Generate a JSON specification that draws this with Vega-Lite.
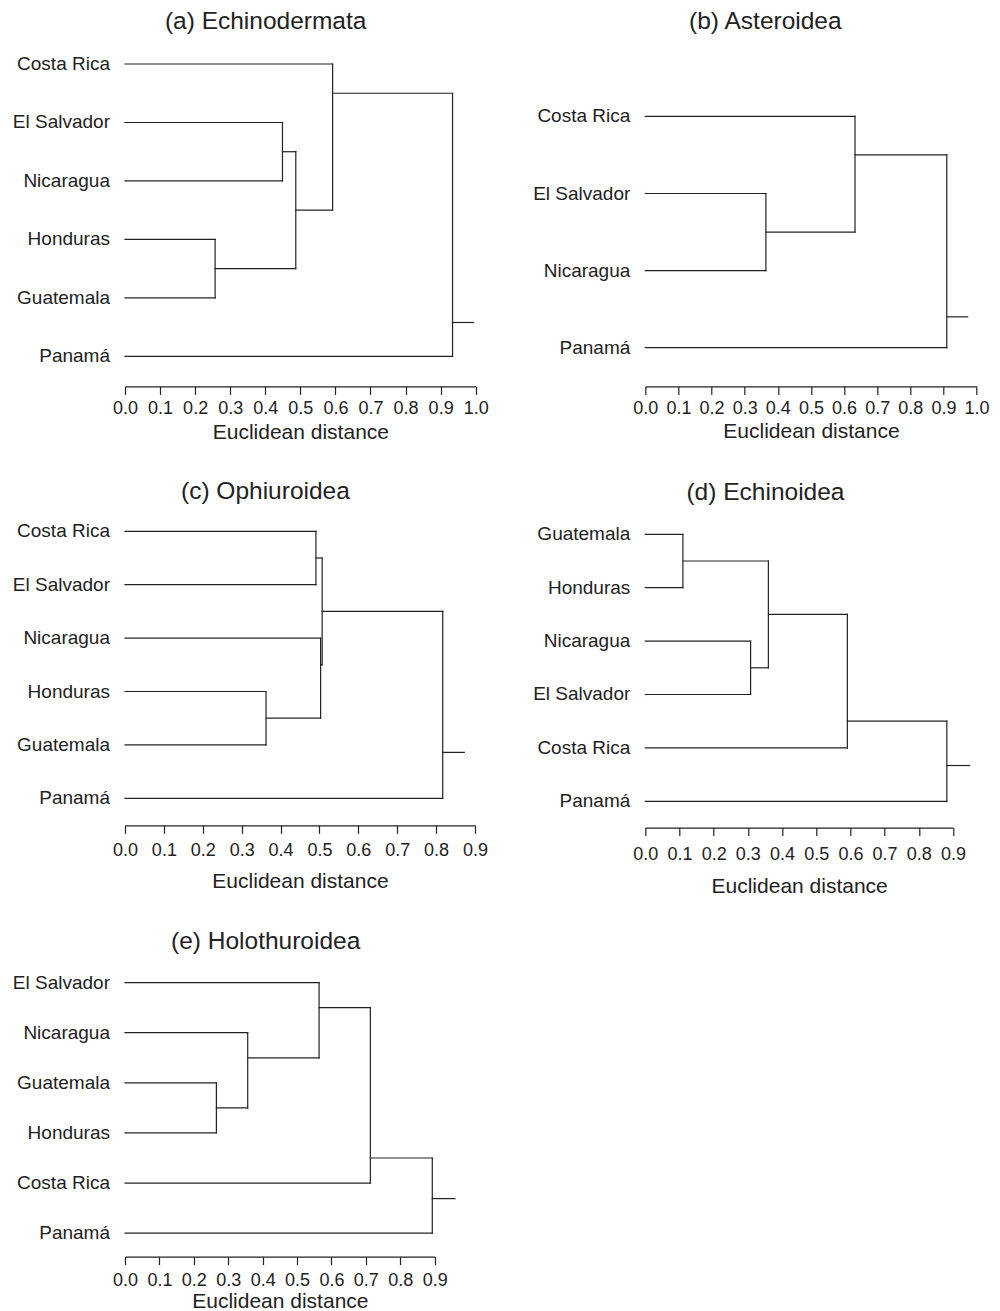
{
  "$schema": "https://vega.github.io/schema/vega-lite/v6.json",
  "padding": {"left": 12, "top": 8, "right": 0, "bottom": 0},
  "background": "white",
  "config": {
    "view": {"stroke": null},
    "font": "Liberation Sans",
    "title": {"fontSize": 24.5, "fontWeight": "normal", "color": "#222", "frame": "group", "anchor": "middle", "baseline": "alphabetic"},
    "axis": {"grid": false, "tickSize": 8, "domainColor": "#222", "tickColor": "#222", "labelColor": "#222", "titleColor": "#222", "labelFontSize": 18, "titleFontSize": 21, "titleFontWeight": "normal", "labelFlush": false, "labelOverlap": false, "format": ".1f", "domainWidth": 1.2, "tickWidth": 1.2}
  },
  "datasets": {
    "segments": [
      {"panel": "a", "d1": 0, "d2": 0.592, "p1": 1, "p2": 1},
      {"panel": "a", "d1": 0, "d2": 0.449, "p1": 2, "p2": 2},
      {"panel": "a", "d1": 0, "d2": 0.449, "p1": 3, "p2": 3},
      {"panel": "a", "d1": 0, "d2": 0.257, "p1": 4, "p2": 4},
      {"panel": "a", "d1": 0, "d2": 0.257, "p1": 5, "p2": 5},
      {"panel": "a", "d1": 0, "d2": 0.934, "p1": 6, "p2": 6},
      {"panel": "a", "d1": 0.257, "d2": 0.257, "p1": 4, "p2": 5},
      {"panel": "a", "d1": 0.257, "d2": 0.487, "p1": 4.5, "p2": 4.5},
      {"panel": "a", "d1": 0.449, "d2": 0.449, "p1": 2, "p2": 3},
      {"panel": "a", "d1": 0.449, "d2": 0.487, "p1": 2.5, "p2": 2.5},
      {"panel": "a", "d1": 0.487, "d2": 0.487, "p1": 2.5, "p2": 4.5},
      {"panel": "a", "d1": 0.487, "d2": 0.592, "p1": 3.5, "p2": 3.5},
      {"panel": "a", "d1": 0.592, "d2": 0.592, "p1": 1, "p2": 3.5},
      {"panel": "a", "d1": 0.592, "d2": 0.934, "p1": 1.5, "p2": 1.5},
      {"panel": "a", "d1": 0.934, "d2": 0.934, "p1": 1.5, "p2": 6},
      {"panel": "a", "d1": 0.934, "d2": 0.994, "p1": 5.42, "p2": 5.42},

      {"panel": "b", "d1": 0, "d2": 0.633, "p1": 1, "p2": 1},
      {"panel": "b", "d1": 0, "d2": 0.364, "p1": 2, "p2": 2},
      {"panel": "b", "d1": 0, "d2": 0.364, "p1": 3, "p2": 3},
      {"panel": "b", "d1": 0, "d2": 0.910, "p1": 4, "p2": 4},
      {"panel": "b", "d1": 0.364, "d2": 0.364, "p1": 2, "p2": 3},
      {"panel": "b", "d1": 0.364, "d2": 0.633, "p1": 2.5, "p2": 2.5},
      {"panel": "b", "d1": 0.633, "d2": 0.633, "p1": 1, "p2": 2.5},
      {"panel": "b", "d1": 0.633, "d2": 0.910, "p1": 1.5, "p2": 1.5},
      {"panel": "b", "d1": 0.910, "d2": 0.910, "p1": 1.5, "p2": 4},
      {"panel": "b", "d1": 0.910, "d2": 0.973, "p1": 3.6, "p2": 3.6},

      {"panel": "c", "d1": 0, "d2": 0.491, "p1": 1, "p2": 1},
      {"panel": "c", "d1": 0, "d2": 0.491, "p1": 2, "p2": 2},
      {"panel": "c", "d1": 0, "d2": 0.503, "p1": 3, "p2": 3},
      {"panel": "c", "d1": 0, "d2": 0.3626, "p1": 4, "p2": 4},
      {"panel": "c", "d1": 0, "d2": 0.3626, "p1": 5, "p2": 5},
      {"panel": "c", "d1": 0, "d2": 0.817, "p1": 6, "p2": 6},
      {"panel": "c", "d1": 0.491, "d2": 0.491, "p1": 1, "p2": 2},
      {"panel": "c", "d1": 0.491, "d2": 0.507, "p1": 1.5, "p2": 1.5},
      {"panel": "c", "d1": 0.3626, "d2": 0.3626, "p1": 4, "p2": 5},
      {"panel": "c", "d1": 0.3626, "d2": 0.503, "p1": 4.5, "p2": 4.5},
      {"panel": "c", "d1": 0.503, "d2": 0.503, "p1": 3, "p2": 4.5},
      {"panel": "c", "d1": 0.503, "d2": 0.507, "p1": 3.5, "p2": 3.5},
      {"panel": "c", "d1": 0.507, "d2": 0.507, "p1": 1.5, "p2": 3.5},
      {"panel": "c", "d1": 0.507, "d2": 0.817, "p1": 2.5, "p2": 2.5},
      {"panel": "c", "d1": 0.817, "d2": 0.817, "p1": 2.5, "p2": 6},
      {"panel": "c", "d1": 0.817, "d2": 0.8725, "p1": 5.14, "p2": 5.14},

      {"panel": "d", "d1": 0, "d2": 0.110, "p1": 1, "p2": 1},
      {"panel": "d", "d1": 0, "d2": 0.110, "p1": 2, "p2": 2},
      {"panel": "d", "d1": 0, "d2": 0.308, "p1": 3, "p2": 3},
      {"panel": "d", "d1": 0, "d2": 0.308, "p1": 4, "p2": 4},
      {"panel": "d", "d1": 0, "d2": 0.591, "p1": 5, "p2": 5},
      {"panel": "d", "d1": 0, "d2": 0.882, "p1": 6, "p2": 6},
      {"panel": "d", "d1": 0.110, "d2": 0.110, "p1": 1, "p2": 2},
      {"panel": "d", "d1": 0.110, "d2": 0.360, "p1": 1.5, "p2": 1.5},
      {"panel": "d", "d1": 0.308, "d2": 0.308, "p1": 3, "p2": 4},
      {"panel": "d", "d1": 0.308, "d2": 0.360, "p1": 3.5, "p2": 3.5},
      {"panel": "d", "d1": 0.360, "d2": 0.360, "p1": 1.5, "p2": 3.5},
      {"panel": "d", "d1": 0.360, "d2": 0.591, "p1": 2.5, "p2": 2.5},
      {"panel": "d", "d1": 0.591, "d2": 0.591, "p1": 2.5, "p2": 5},
      {"panel": "d", "d1": 0.591, "d2": 0.882, "p1": 4.5, "p2": 4.5},
      {"panel": "d", "d1": 0.882, "d2": 0.882, "p1": 4.5, "p2": 6},
      {"panel": "d", "d1": 0.882, "d2": 0.949, "p1": 5.33, "p2": 5.33},

      {"panel": "e", "d1": 0, "d2": 0.564, "p1": 1, "p2": 1},
      {"panel": "e", "d1": 0, "d2": 0.3566, "p1": 2, "p2": 2},
      {"panel": "e", "d1": 0, "d2": 0.2656, "p1": 3, "p2": 3},
      {"panel": "e", "d1": 0, "d2": 0.2656, "p1": 4, "p2": 4},
      {"panel": "e", "d1": 0, "d2": 0.713, "p1": 5, "p2": 5},
      {"panel": "e", "d1": 0, "d2": 0.893, "p1": 6, "p2": 6},
      {"panel": "e", "d1": 0.2656, "d2": 0.2656, "p1": 3, "p2": 4},
      {"panel": "e", "d1": 0.2656, "d2": 0.3566, "p1": 3.5, "p2": 3.5},
      {"panel": "e", "d1": 0.3566, "d2": 0.3566, "p1": 2, "p2": 3.5},
      {"panel": "e", "d1": 0.3566, "d2": 0.564, "p1": 2.5, "p2": 2.5},
      {"panel": "e", "d1": 0.564, "d2": 0.564, "p1": 1, "p2": 2.5},
      {"panel": "e", "d1": 0.564, "d2": 0.713, "p1": 1.5, "p2": 1.5},
      {"panel": "e", "d1": 0.713, "d2": 0.713, "p1": 1.5, "p2": 5},
      {"panel": "e", "d1": 0.713, "d2": 0.893, "p1": 4.5, "p2": 4.5},
      {"panel": "e", "d1": 0.893, "d2": 0.893, "p1": 4.5, "p2": 6},
      {"panel": "e", "d1": 0.893, "d2": 0.959, "p1": 5.31, "p2": 5.31}
    ],
    "leaves": [
      {"panel": "a", "name": "Costa Rica", "pos": 1},
      {"panel": "a", "name": "El Salvador", "pos": 2},
      {"panel": "a", "name": "Nicaragua", "pos": 3},
      {"panel": "a", "name": "Honduras", "pos": 4},
      {"panel": "a", "name": "Guatemala", "pos": 5},
      {"panel": "a", "name": "Panamá", "pos": 6},
      {"panel": "b", "name": "Costa Rica", "pos": 1},
      {"panel": "b", "name": "El Salvador", "pos": 2},
      {"panel": "b", "name": "Nicaragua", "pos": 3},
      {"panel": "b", "name": "Panamá", "pos": 4},
      {"panel": "c", "name": "Costa Rica", "pos": 1},
      {"panel": "c", "name": "El Salvador", "pos": 2},
      {"panel": "c", "name": "Nicaragua", "pos": 3},
      {"panel": "c", "name": "Honduras", "pos": 4},
      {"panel": "c", "name": "Guatemala", "pos": 5},
      {"panel": "c", "name": "Panamá", "pos": 6},
      {"panel": "d", "name": "Guatemala", "pos": 1},
      {"panel": "d", "name": "Honduras", "pos": 2},
      {"panel": "d", "name": "Nicaragua", "pos": 3},
      {"panel": "d", "name": "El Salvador", "pos": 4},
      {"panel": "d", "name": "Costa Rica", "pos": 5},
      {"panel": "d", "name": "Panamá", "pos": 6},
      {"panel": "e", "name": "El Salvador", "pos": 1},
      {"panel": "e", "name": "Nicaragua", "pos": 2},
      {"panel": "e", "name": "Guatemala", "pos": 3},
      {"panel": "e", "name": "Honduras", "pos": 4},
      {"panel": "e", "name": "Costa Rica", "pos": 5},
      {"panel": "e", "name": "Panamá", "pos": 6}
    ]
  },
  "columns": 2,
  "bounds": "flush",
  "spacing": {"row": 174.3, "column": 169.3},
  "concat": [
    {
      "width": 350.7, "height": 292.4,
      "title": {"text": "(a) Echinodermata", "dx": -34.7, "offset": 20.9},
      "layer": [
        {
          "data": {"name": "segments"},
          "transform": [{"filter": "datum.panel === 'a'"}],
          "mark": {"type": "rule", "color": "#222", "strokeWidth": 1.2, "strokeCap": "square"},
          "encoding": {
            "x": {"field": "d1", "type": "quantitative", "scale": {"domain": [0, 1], "nice": false, "zero": false},
                  "axis": {"title": "Euclidean distance", "values": [0, 0.1, 0.2, 0.3, 0.4, 0.5, 0.6, 0.7, 0.8, 0.9, 1.0], "offset": 30, "labelPadding": 5, "titlePadding": 3.6}},
            "x2": {"field": "d2"},
            "y": {"field": "p1", "type": "quantitative", "scale": {"domain": [1, 6], "reverse": true, "nice": false, "zero": false}, "axis": null},
            "y2": {"field": "p2"}
          }
        },
        {
          "data": {"name": "leaves"},
          "transform": [{"filter": "datum.panel === 'a'"}],
          "mark": {"type": "text", "align": "right", "baseline": "middle", "dx": -15, "fontSize": 19, "color": "#222"},
          "encoding": {
            "x": {"datum": 0, "type": "quantitative",
                  "axis": {"title": "Euclidean distance", "values": [0, 0.1, 0.2, 0.3, 0.4, 0.5, 0.6, 0.7, 0.8, 0.9, 1.0], "offset": 30, "labelPadding": 5, "titlePadding": 3.6}},
            "y": {"field": "pos", "type": "quantitative", "axis": null},
            "text": {"field": "name"}
          }
        }
      ]
    },
    {
      "width": 331.3, "height": 292.4,
      "title": {"text": "(b) Asteroidea", "dx": -45.6, "offset": 29.3},
      "layer": [
        {
          "data": {"name": "segments"},
          "transform": [{"filter": "datum.panel === 'b'"}],
          "mark": {"type": "rule", "color": "#222", "strokeWidth": 1.2, "strokeCap": "square"},
          "encoding": {
            "x": {"field": "d1", "type": "quantitative", "scale": {"domain": [0, 1], "nice": false, "zero": false},
                  "axis": {"title": "Euclidean distance", "values": [0, 0.1, 0.2, 0.3, 0.4, 0.5, 0.6, 0.7, 0.8, 0.9, 1.0], "offset": 30, "labelPadding": 5.2, "titlePadding": 2.4}},
            "x2": {"field": "d2"},
            "y": {"field": "p1", "type": "quantitative", "scale": {"domain": [0.32, 4.113], "reverse": true, "nice": false, "zero": false}, "axis": null},
            "y2": {"field": "p2"}
          }
        },
        {
          "data": {"name": "leaves"},
          "transform": [{"filter": "datum.panel === 'b'"}],
          "mark": {"type": "text", "align": "right", "baseline": "middle", "dx": -15, "fontSize": 19, "color": "#222"},
          "encoding": {
            "x": {"datum": 0, "type": "quantitative",
                  "axis": {"title": "Euclidean distance", "values": [0, 0.1, 0.2, 0.3, 0.4, 0.5, 0.6, 0.7, 0.8, 0.9, 1.0], "offset": 30, "labelPadding": 5.2, "titlePadding": 2.4}},
            "y": {"field": "pos", "type": "quantitative", "axis": null},
            "text": {"field": "name"}
          }
        }
      ]
    },
    {
      "width": 350, "height": 276.4,
      "title": {"text": "(c) Ophiuroidea", "dx": -34.6, "offset": 17.7},
      "layer": [
        {
          "data": {"name": "segments"},
          "transform": [{"filter": "datum.panel === 'c'"}],
          "mark": {"type": "rule", "color": "#222", "strokeWidth": 1.2, "strokeCap": "square"},
          "encoding": {
            "x": {"field": "d1", "type": "quantitative", "scale": {"domain": [0, 0.9], "nice": false, "zero": false},
                  "axis": {"title": "Euclidean distance", "values": [0, 0.1, 0.2, 0.3, 0.4, 0.5, 0.6, 0.7, 0.8, 0.9], "offset": 17.6, "labelPadding": 7.8, "titlePadding": 11.4}},
            "x2": {"field": "d2"},
            "y": {"field": "p1", "type": "quantitative", "scale": {"domain": [1, 6.176], "reverse": true, "nice": false, "zero": false}, "axis": null},
            "y2": {"field": "p2"}
          }
        },
        {
          "data": {"name": "leaves"},
          "transform": [{"filter": "datum.panel === 'c'"}],
          "mark": {"type": "text", "align": "right", "baseline": "middle", "dx": -15, "fontSize": 19, "color": "#222"},
          "encoding": {
            "x": {"datum": 0, "type": "quantitative",
                  "axis": {"title": "Euclidean distance", "values": [0, 0.1, 0.2, 0.3, 0.4, 0.5, 0.6, 0.7, 0.8, 0.9], "offset": 17.6, "labelPadding": 7.8, "titlePadding": 11.4}},
            "y": {"field": "pos", "type": "quantitative", "axis": null},
            "text": {"field": "name"}
          }
        }
      ]
    },
    {
      "width": 307.7, "height": 276.4,
      "title": {"text": "(d) Echinoidea", "dx": -33.7, "offset": 19.6},
      "layer": [
        {
          "data": {"name": "segments"},
          "transform": [{"filter": "datum.panel === 'd'"}],
          "mark": {"type": "rule", "color": "#222", "strokeWidth": 1.2, "strokeCap": "square"},
          "encoding": {
            "x": {"field": "d1", "type": "quantitative", "scale": {"domain": [0, 0.9], "nice": false, "zero": false},
                  "axis": {"title": "Euclidean distance", "values": [0, 0.1, 0.2, 0.3, 0.4, 0.5, 0.6, 0.7, 0.8, 0.9], "offset": 19.9, "labelPadding": 9.8, "titlePadding": 12.1}},
            "x2": {"field": "d2"},
            "y": {"field": "p1", "type": "quantitative", "scale": {"domain": [0.944, 6.12], "reverse": true, "nice": false, "zero": false}, "axis": null},
            "y2": {"field": "p2"}
          }
        },
        {
          "data": {"name": "leaves"},
          "transform": [{"filter": "datum.panel === 'd'"}],
          "mark": {"type": "text", "align": "right", "baseline": "middle", "dx": -15, "fontSize": 19, "color": "#222"},
          "encoding": {
            "x": {"datum": 0, "type": "quantitative",
                  "axis": {"title": "Euclidean distance", "values": [0, 0.1, 0.2, 0.3, 0.4, 0.5, 0.6, 0.7, 0.8, 0.9], "offset": 19.9, "labelPadding": 9.8, "titlePadding": 12.1}},
            "y": {"field": "pos", "type": "quantitative", "axis": null},
            "text": {"field": "name"}
          }
        }
      ]
    },
    {
      "width": 309.7, "height": 250.6,
      "title": {"text": "(e) Holothuroidea", "dx": -14.2, "offset": 19.3},
      "layer": [
        {
          "data": {"name": "segments"},
          "transform": [{"filter": "datum.panel === 'e'"}],
          "mark": {"type": "rule", "color": "#222", "strokeWidth": 1.2, "strokeCap": "square"},
          "encoding": {
            "x": {"field": "d1", "type": "quantitative", "scale": {"domain": [0, 0.9], "nice": false, "zero": false},
                  "axis": {"title": "Euclidean distance", "values": [0, 0.1, 0.2, 0.3, 0.4, 0.5, 0.6, 0.7, 0.8, 0.9], "offset": 23.4, "labelPadding": 6.8, "titlePadding": 1.5}},
            "x2": {"field": "d2"},
            "y": {"field": "p1", "type": "quantitative", "scale": {"domain": [1, 6], "reverse": true, "nice": false, "zero": false}, "axis": null},
            "y2": {"field": "p2"}
          }
        },
        {
          "data": {"name": "leaves"},
          "transform": [{"filter": "datum.panel === 'e'"}],
          "mark": {"type": "text", "align": "right", "baseline": "middle", "dx": -15, "fontSize": 19, "color": "#222"},
          "encoding": {
            "x": {"datum": 0, "type": "quantitative",
                  "axis": {"title": "Euclidean distance", "values": [0, 0.1, 0.2, 0.3, 0.4, 0.5, 0.6, 0.7, 0.8, 0.9], "offset": 23.4, "labelPadding": 6.8, "titlePadding": 1.5}},
            "y": {"field": "pos", "type": "quantitative", "axis": null},
            "text": {"field": "name"}
          }
        }
      ]
    }
  ]
}
